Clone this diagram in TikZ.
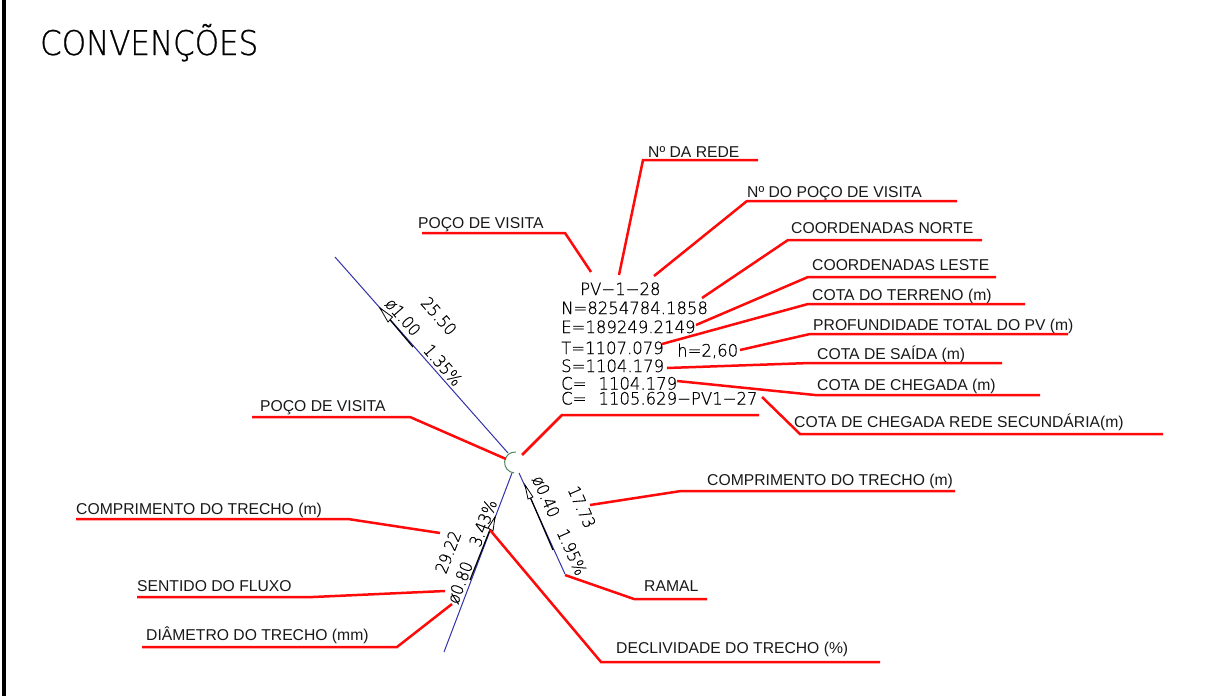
\documentclass[tikz,border=0pt]{standalone}
\usepackage{fontspec}
\setmainfont{Liberation Sans}
\newfontfamily\iso{DejaVu Sans}[UprightFont=* ExtraLight,FakeBold=0.6,FakeStretch=0.97]
\newfontfamily\isorot{DejaVu Sans}[UprightFont=* ExtraLight,FakeBold=0.6,FakeStretch=0.9]
\newfontfamily\isotitle{DejaVu Sans}[UprightFont=* ExtraLight,FakeBold=0.7,FakeStretch=0.91]
\definecolor{leadred}{RGB}{255,10,10}
\definecolor{pipeblue}{RGB}{50,50,170}
\definecolor{pvgreen}{RGB}{80,135,95}
\definecolor{labelink}{RGB}{25,25,25}
\tikzset{
  lbl/.style={anchor=base west,inner sep=0pt,text=labelink,font=\fontsize{15.7}{15.7}\selectfont},
  code/.style={anchor=base west,inner sep=0pt,text=black,font=\iso\fontsize{17}{17}\selectfont},
  rot/.style={anchor=center,inner sep=0pt,text=black,font=\isorot\fontsize{17}{17}\selectfont},
  leader/.style={draw=leadred,line width=2.5pt,line join=miter},
  pipe/.style={draw=pipeblue,line width=1pt},
  flow/.style={draw=black,line width=1.2pt},
  flowhead/.style={draw=black,line width=0.8pt,fill=white}
}
\begin{document}
\begin{tikzpicture}[x=1pt,y=-1pt]
\useasboundingbox (0,0) rectangle (1209,696);
\fill[white] (0,0) rectangle (1209,696);
\fill[black] (2,0) rectangle (5.5,696);
\node[anchor=base west,inner sep=0pt,font=\isotitle\fontsize{34}{34}\selectfont] (title) at (40,55) {CONVENÇÕES};

% pipes
\coordinate (p1a) at (335,257); \coordinate (p1b) at (508,453);
\coordinate (p2a) at (444,652); \coordinate (p2b) at (512,473);
\coordinate (p3a) at (519,473); \coordinate (p3b) at (565,574);
\draw[pipe] (p1a) -- (p1b);
\draw[pipe] (p2a) -- (p2b);
\draw[pipe] (p3a) -- (p3b);
\draw[draw=pvgreen,line width=1pt] (516,452) arc[start angle=-85,end angle=-265,radius=10.5];

% flow arrows
\coordinate (f1t) at (380,308); \coordinate (f1e) at (413,347);
\coordinate (f2t) at (495,517); \coordinate (f2e) at (470,580);
\coordinate (f3t) at (525,485); \coordinate (f3e) at (553,550);
\draw[flow] (f1t) -- (f1e);
\draw[flow] (f2t) -- (f2e);
\draw[flow] (f3t) -- (f3e);
\draw[flowhead] (f1t) -- (392.5,317) -- (388,322) -- cycle;
\draw[flowhead] (f2t) -- (493,531) -- (488,528) -- cycle;
\draw[flowhead] (f3t) -- (533,497) -- (528,499) -- cycle;

% data block
\node[code] (pv) at (580,295) {PV−1−28};
\node[code] (n) at (561,314) {N=8254784.1858};
\node[code] (e) at (561,333) {E=189249.2149};
\node[code] (t) at (561,354) {T=1107.079};
\node[code] (h) at (677,356.5) {h=2,60};
\node[code] (s) at (561,372) {S=1104.179};
\node[code] (c1) at (561,389.5) {C=\hspace{12pt}1104.179};
\node[code] (c2) at (561,404.5) {C=\hspace{12pt}1105.629−PV1−27};

% rotated pipe data
\node[rot,rotate=-49] (r1) at (439,316) {25.50};
\node[rot,rotate=-49] (r2) at (403,317) {ø1.00};
\node[rot,rotate=-49] (r3) at (443,365) {1.35\%};
\node[rot,rotate=69] (r4) at (448,552) {29.22};
\node[rot,rotate=69] (r5) at (460,582.5) {ø0.80};
\node[rot,rotate=69] (r6) at (483,523) {3.43\%};
\node[rot,rotate=-66] (r7) at (582,507) {17.73};
\node[rot,rotate=-66] (r8) at (546,496.5) {ø0.40};
\node[rot,rotate=-66] (r9) at (572,552) {1.95\%};

% labels
\node[lbl] (l1) at (648,157) {Nº DA REDE};
\node[lbl] (l2) at (747,197) {Nº DO POÇO DE VISITA};
\node[lbl] (l3) at (791,233) {COORDENADAS NORTE};
\node[lbl] (l4) at (812,270) {COORDENADAS LESTE};
\node[lbl] (l5) at (812,300) {COTA DO TERRENO (m)};
\node[lbl] (l6) at (813,330) {PROFUNDIDADE TOTAL DO PV (m)};
\node[lbl] (l7) at (817,359) {COTA DE SAÍDA (m)};
\node[lbl] (l8) at (817,390) {COTA DE CHEGADA (m)};
\node[lbl] (l9) at (794,427) {COTA DE CHEGADA REDE SECUNDÁRIA(m)};
\node[lbl] (l11) at (418,228) {POÇO DE VISITA};
\node[lbl] (l12) at (260,411) {POÇO DE VISITA};
\node[lbl] (l13) at (707,485) {COMPRIMENTO DO TRECHO (m)};
\node[lbl] (l14) at (76,514) {COMPRIMENTO DO TRECHO (m)};
\node[lbl] (l15) at (137,591) {SENTIDO DO FLUXO};
\node[lbl] (l16) at (146,640) {DIÂMETRO DO TRECHO (mm)};
\node[lbl] (l17) at (616,653) {DECLIVIDADE DO TRECHO (\%)};
\node[lbl] (l18) at (644,591) {RAMAL};

% leaders
\draw[leader] (619,275) -- (643,160) -- (758,160);
\draw[leader] (654,276) -- (747,201) -- (957,201);
\draw[leader] (702,298) -- (788,240) -- (982,240);
\draw[leader] (696,325) -- (808,277) -- (996,277);
\draw[leader] (662,344) -- (808,304) -- (1025,304);
\draw[leader] (740,350) -- (810,334) -- (1068,334);
\draw[leader] (667,368) -- (810,363) -- (1002,363);
\draw[leader] (677,381) -- (815,395) -- (1040,395);
\draw[leader] (762,397) -- (800,434) -- (1163,434);
\draw[leader] (522,455) -- (562,415) -- (759,415);
\draw[leader] (422,233) -- (565,233) -- (591,272);
\draw[leader] (252,417) -- (410,417) -- (506,459);
\draw[leader] (590,505) -- (681,491) -- (955,491);
\draw[leader] (76,519) -- (348,519) -- (440,533);
\draw[leader] (137,597) -- (313,597) -- (445,591);
\draw[leader] (142,647) -- (397,647) -- (452,604);
\draw[leader] (490,530) -- (601,662) -- (880,662);
\draw[leader] (565,575) -- (634,599) -- (707,599);
\end{tikzpicture}
\end{document}
